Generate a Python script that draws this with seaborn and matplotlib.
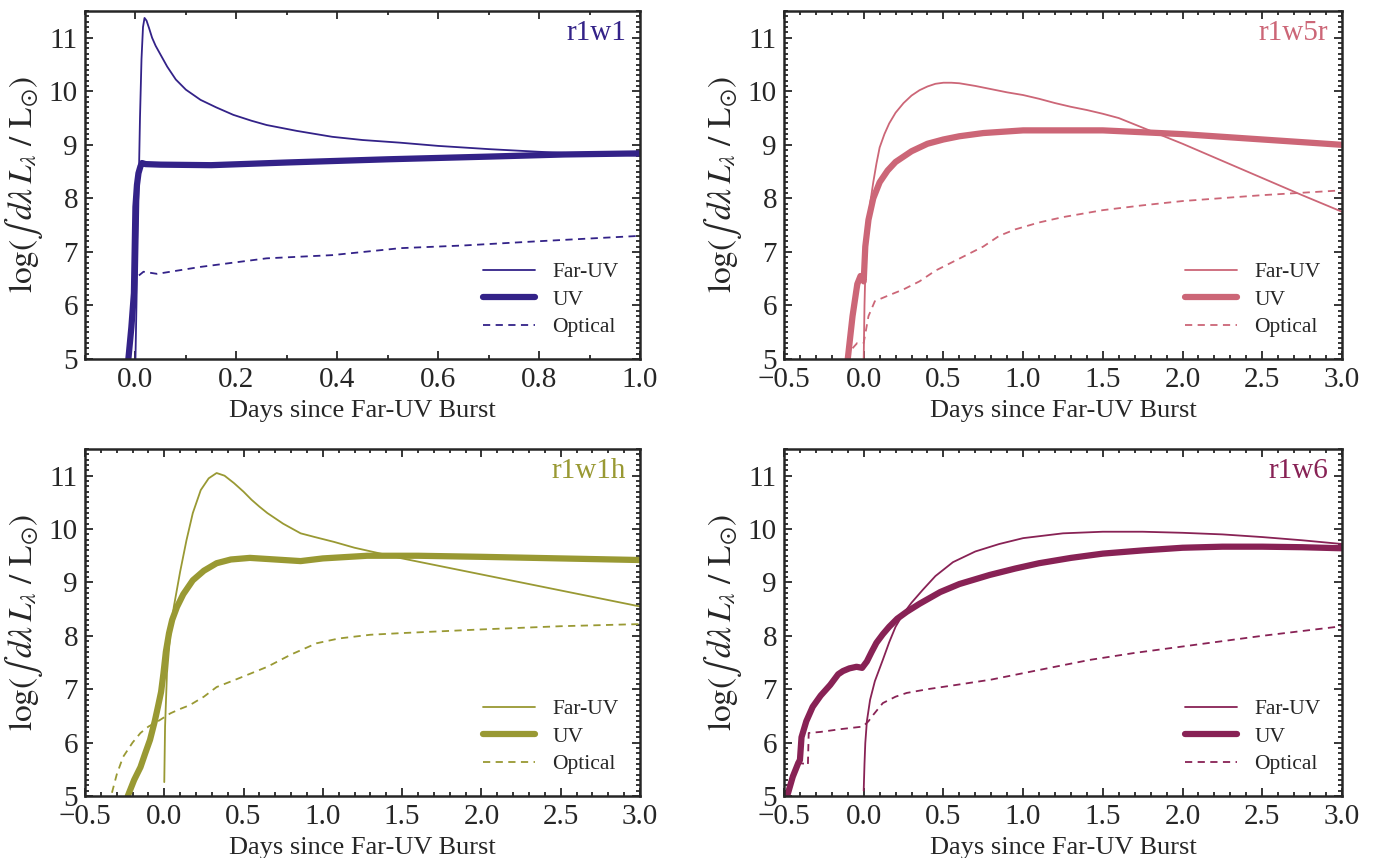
import numpy as np
import pandas as pd
import matplotlib
matplotlib.use('Agg')
import matplotlib.pyplot as plt
from matplotlib.ticker import MultipleLocator
import seaborn as sns

# panel names and colours
models = ['r1w1', 'r1w5r', 'r1w1h', 'r1w6']
colors = ['#332288', '#CC6677', '#999933', '#882255']

# r1w1 (days, log L)
r1w1_fuv_x = [0.0, 0.003, 0.006, 0.009, 0.012, 0.015, 0.018, 0.022, 0.027, 0.033, 0.04, 0.05, 0.063, 0.08, 0.1, 0.129,
              0.16, 0.194, 0.23, 0.26, 0.32, 0.39, 0.45, 0.525, 0.6, 0.7, 0.8, 0.9, 1.0]
r1w1_fuv_y = [5.0, 6.5, 8.0, 9.5, 10.6, 11.2, 11.37, 11.32, 11.18, 11.0, 10.85, 10.68, 10.46, 10.22, 10.03, 9.84,
              9.7, 9.56, 9.45, 9.37, 9.26, 9.15, 9.09, 9.04, 8.98, 8.92, 8.87, 8.83, 8.8]
r1w1_uv_x = [-0.014, -0.008, -0.003, 0.0, 0.003, 0.006, 0.01, 0.013, 0.02, 0.05, 0.15, 0.3, 0.5, 0.7, 0.85, 1.0]
r1w1_uv_y = [5.0, 5.6, 6.23, 7.84, 8.25, 8.47, 8.6, 8.66, 8.64, 8.63, 8.62, 8.67, 8.73, 8.78, 8.82, 8.84]
r1w1_opt_x = [-0.003, 0.003, 0.016, 0.043, 0.129, 0.26, 0.39, 0.525, 0.65, 0.8, 0.9, 1.0]
r1w1_opt_y = [6.35, 6.53, 6.63, 6.59, 6.72, 6.88, 6.94, 7.07, 7.12, 7.2, 7.25, 7.3]

# r1w5r
r1w5r_fuv_x = [0.0, 0.005, 0.01, 0.02, 0.04, 0.06, 0.08, 0.1, 0.13, 0.16, 0.2, 0.25, 0.3, 0.35, 0.4, 0.45, 0.5, 0.55,
               0.6, 0.7, 0.8, 0.9, 1.0, 1.1, 1.2, 1.3, 1.4, 1.5, 1.6, 1.7, 1.8, 1.9, 2.0, 2.25, 2.5, 2.75, 3.0]
r1w5r_fuv_y = [5.0, 6.0, 6.6, 7.2, 7.9, 8.3, 8.65, 8.95, 9.2, 9.4, 9.6, 9.78, 9.92, 10.02, 10.09, 10.14, 10.16, 10.16,
               10.15, 10.1, 10.04, 9.98, 9.93, 9.86, 9.78, 9.71, 9.65, 9.58, 9.5, 9.38, 9.26, 9.14, 9.02, 8.7, 8.38,
               8.06, 7.75]
r1w5r_uv_x = [-0.1, -0.07, -0.04, -0.02, 0.0, 0.01, 0.03, 0.06, 0.1, 0.15, 0.2, 0.3, 0.4, 0.5, 0.6, 0.75, 1.0, 1.5,
              2.0, 2.5, 3.0]
r1w5r_uv_y = [5.0, 5.8, 6.4, 6.55, 6.45, 7.1, 7.6, 8.0, 8.3, 8.52, 8.68, 8.88, 9.02, 9.1, 9.16, 9.22, 9.27, 9.27,
              9.2, 9.1, 9.0]
r1w5r_opt_x = [-0.07, -0.04, 0.0, 0.03, 0.07, 0.15, 0.25, 0.35, 0.45, 0.55, 0.65, 0.75, 0.85, 0.95, 1.1, 1.25, 1.5,
               1.75, 2.0, 2.5, 3.0]
r1w5r_opt_y = [5.2, 5.3, 5.3, 5.8, 6.08, 6.18, 6.3, 6.45, 6.65, 6.8, 6.95, 7.1, 7.3, 7.42, 7.55, 7.65, 7.78, 7.87,
               7.95, 8.06, 8.15]

# r1w1h
r1w1h_fuv_x = [0.0, 0.005, 0.017, 0.04, 0.06, 0.1, 0.14, 0.18, 0.23, 0.28, 0.33, 0.38, 0.44, 0.5, 0.55, 0.6, 0.65,
               0.75, 0.86, 0.95, 1.07, 1.2, 1.35, 1.5, 1.75, 2.0, 2.25, 2.5, 2.75, 3.0]
r1w1h_fuv_y = [5.26, 6.3, 7.3, 8.1, 8.54, 9.2, 9.79, 10.3, 10.73, 10.95, 11.05, 11.0, 10.86, 10.7, 10.55, 10.42, 10.3,
               10.1, 9.92, 9.85, 9.76, 9.65, 9.55, 9.45, 9.3, 9.15, 9.0, 8.85, 8.7, 8.55]
r1w1h_uv_x = [-0.23, -0.19, -0.15, -0.12, -0.09, -0.06, -0.04, -0.02, -0.005, 0.01, 0.03, 0.05, 0.08, 0.12, 0.18,
              0.25, 0.33, 0.42, 0.54, 0.7, 0.86, 1.0, 1.28, 1.6, 2.0, 2.5, 3.0]
r1w1h_uv_y = [5.0, 5.3, 5.54, 5.8, 6.05, 6.4, 6.67, 6.95, 7.3, 7.7, 8.05, 8.3, 8.54, 8.78, 9.04,
              9.22, 9.36, 9.43, 9.46, 9.43, 9.4, 9.45, 9.5, 9.5, 9.48, 9.45, 9.42]
r1w1h_opt_x = [-0.33, -0.3, -0.26, -0.2, -0.15, -0.1, -0.045, 0.04, 0.1, 0.16, 0.25, 0.33, 0.45, 0.55, 0.65, 0.8,
               0.96, 1.1, 1.3, 1.49, 2.0, 2.5, 3.0]
r1w1h_opt_y = [5.06, 5.4, 5.73, 6.0, 6.18, 6.3, 6.39, 6.55, 6.63, 6.7, 6.86, 7.04, 7.18, 7.3, 7.42, 7.65,
               7.86, 7.95, 8.02, 8.05, 8.12, 8.18, 8.22]

# r1w6
r1w6_fuv_x = [0.0, 0.005, 0.01, 0.02, 0.04, 0.07, 0.12, 0.16, 0.2, 0.25, 0.3, 0.37, 0.45, 0.56, 0.7, 0.85, 1.0, 1.25,
              1.5, 1.75, 2.0, 2.25, 2.5, 2.75, 3.0]
r1w6_fuv_y = [5.1, 5.6, 5.99, 6.4, 6.8, 7.15, 7.55, 7.88, 8.17, 8.42, 8.62, 8.86, 9.12, 9.38, 9.58, 9.72, 9.83, 9.92,
              9.95, 9.95, 9.93, 9.9, 9.85, 9.79, 9.72]
r1w6_uv_x = [-0.5, -0.475, -0.445, -0.41, -0.40, -0.39, -0.36, -0.32, -0.27, -0.21, -0.16, -0.13, -0.09, -0.045,
             -0.01, 0.02, 0.05, 0.08, 0.12, 0.16, 0.21, 0.27, 0.35, 0.48, 0.6, 0.79, 0.95, 1.1, 1.3, 1.5, 1.75,
             2.0, 2.25, 2.5, 2.75, 3.0]
r1w6_uv_y = [4.9, 5.05, 5.36, 5.62, 5.67, 6.1, 6.4, 6.67, 6.88, 7.08, 7.28, 7.34, 7.39, 7.42,
             7.4, 7.52, 7.7, 7.87, 8.03, 8.17, 8.32, 8.45, 8.6, 8.82, 8.97, 9.14, 9.26, 9.36, 9.46, 9.54, 9.6,
             9.65, 9.67, 9.67, 9.66, 9.64]
r1w6_opt_x = [-0.42, -0.36, -0.35, -0.345, -0.27, -0.15, -0.005, 0.03, 0.06, 0.12, 0.2, 0.27, 0.4, 0.58, 0.8, 1.0,
              1.2, 1.42, 1.7, 2.0, 2.5, 3.0]
r1w6_opt_y = [5.62, 5.6, 5.58, 6.18, 6.2, 6.25, 6.3, 6.4, 6.52, 6.74, 6.86, 6.93, 7.0, 7.08, 7.18, 7.3,
              7.42, 7.55, 7.68, 7.8, 8.0, 8.18]

series = {
    'r1w1': [(r1w1_fuv_x, r1w1_fuv_y), (r1w1_uv_x, r1w1_uv_y), (r1w1_opt_x, r1w1_opt_y)],
    'r1w5r': [(r1w5r_fuv_x, r1w5r_fuv_y), (r1w5r_uv_x, r1w5r_uv_y), (r1w5r_opt_x, r1w5r_opt_y)],
    'r1w1h': [(r1w1h_fuv_x, r1w1h_fuv_y), (r1w1h_uv_x, r1w1h_uv_y), (r1w1h_opt_x, r1w1h_opt_y)],
    'r1w6': [(r1w6_fuv_x, r1w6_fuv_y), (r1w6_uv_x, r1w6_uv_y), (r1w6_opt_x, r1w6_opt_y)],
}
band_labels = ['Far-UV', 'UV', 'Optical']

sns.set_style('ticks')
plt.rcParams['font.family'] = ['Liberation Serif', 'DejaVu Serif']
plt.rcParams['mathtext.fontset'] = 'stix'
plt.rcParams['axes.linewidth'] = 1.5

fig = plt.figure(figsize=(13.73, 8.58), dpi=100)
rects = [
    [0.0619, 0.5816, 0.4042, 0.4056],
    [0.5710, 0.5816, 0.4064, 0.4056],
    [0.0619, 0.0723, 0.4042, 0.4044],
    [0.5710, 0.0723, 0.4064, 0.4044],
]

styles = [dict(lw=1.3, ls='-'), dict(lw=4.5, ls='-'), dict(lw=1.3, ls=(0, (4, 3)))]

for i, name in enumerate(models):
    ax = fig.add_axes(rects[i])
    c = colors[i]
    for (x, y), lab, st in zip(series[name], band_labels, styles):
        df = pd.DataFrame({'x': x, 'y': y})
        sns.lineplot(data=df, x='x', y='y', ax=ax, color=c, sort=False,
                     estimator=None, label=lab, linewidth=st['lw'], linestyle=st['ls'])
    if i == 0:
        ax.set_xlim(-0.1, 1.0)
        ax.xaxis.set_major_locator(MultipleLocator(0.2))
    else:
        ax.set_xlim(-0.5, 3.0)
        ax.xaxis.set_major_locator(MultipleLocator(0.5))
    ax.xaxis.set_minor_locator(MultipleLocator(0.1))
    ax.set_ylim(5, 11.5)
    ax.yaxis.set_major_locator(MultipleLocator(1))
    ax.yaxis.set_minor_locator(MultipleLocator(0.1))
    ax.tick_params(which='both', direction='in', top=True, right=True, labelsize=21, width=1.3)
    ax.tick_params(which='major', length=6)
    ax.tick_params(which='minor', length=3)
    ax.tick_params(axis='x', which='major', pad=6)
    ax.tick_params(axis='y', which='major', pad=5)
    ax.set_xlabel('Days since Far-UV Burst', fontsize=19, labelpad=5)
    ax.set_ylabel(r'$\log(\int\, d\lambda\, L_\lambda\ /\ \mathrm{L}_{\odot})$', fontsize=24, labelpad=3)
    ax.text(0.975, 0.975, name, transform=ax.transAxes, ha='right', va='top', color=c, fontsize=21)
    ax.legend(loc='lower right', frameon=False, fontsize=15.5, handlelength=2.4,
              handletextpad=0.8, labelspacing=0.35, borderaxespad=0.6)
    for s in ax.spines.values():
        s.set_linewidth(1.8)

fig.savefig('out.png', dpi=100)
